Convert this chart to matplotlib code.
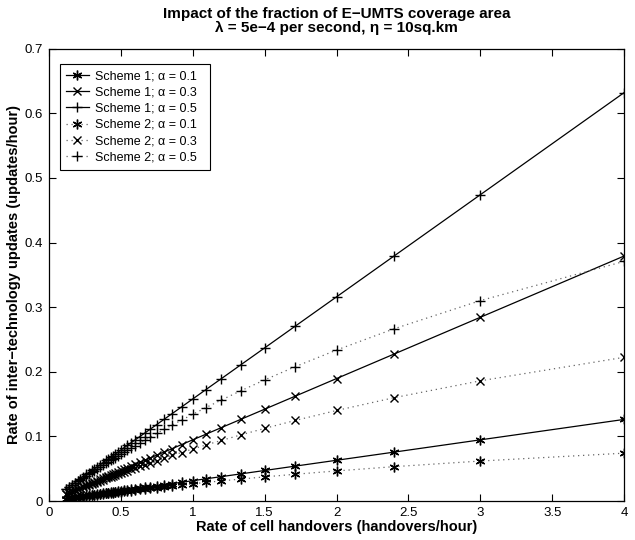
import matplotlib
matplotlib.use('Agg')
import matplotlib.pyplot as plt

# ==============================================================================
# data
# ==============================================================================

# rate of cell handovers (handovers/hour)
handovers = [4.0, 3.0, 2.4, 2.0, 1.7143, 1.5, 1.3333, 1.2, 1.0909, 1.0,
             0.9231, 0.8571, 0.8, 0.75, 0.7059, 0.6667, 0.6316, 0.6, 0.5714, 0.5455,
             0.5217, 0.5, 0.48, 0.4615, 0.4444, 0.4286, 0.4138, 0.4, 0.375, 0.3529,
             0.3333, 0.3158, 0.3, 0.2791, 0.2609, 0.24, 0.2182, 0.2, 0.1818, 0.16,
             0.1412, 0.12]

# scheme 1
s1_a01 = [0.1264, 0.0948, 0.0758, 0.0632, 0.0542, 0.0474, 0.0421, 0.0379, 0.0345, 0.0316,
          0.0292, 0.0271, 0.0253, 0.0237, 0.0223, 0.0211, 0.0200, 0.0190, 0.0181, 0.0172,
          0.0165, 0.0158, 0.0152, 0.0146, 0.0140, 0.0135, 0.0131, 0.0126, 0.0119, 0.0112,
          0.0105, 0.0100, 0.0095, 0.0088, 0.0082, 0.0076, 0.0069, 0.0063, 0.0057, 0.0051,
          0.0045, 0.0038]
s1_a03 = [0.3792, 0.2844, 0.2275, 0.1896, 0.1625, 0.1422, 0.1264, 0.1138, 0.1034, 0.0948,
          0.0875, 0.0812, 0.0758, 0.0711, 0.0669, 0.0632, 0.0599, 0.0569, 0.0542, 0.0517,
          0.0494, 0.0474, 0.0455, 0.0437, 0.0421, 0.0406, 0.0392, 0.0379, 0.0356, 0.0335,
          0.0316, 0.0299, 0.0284, 0.0265, 0.0247, 0.0227, 0.0207, 0.0190, 0.0172, 0.0152,
          0.0134, 0.0114]
s1_a05 = [0.632, 0.474, 0.3792, 0.316, 0.2709, 0.237, 0.2107, 0.1896, 0.1724, 0.158,
          0.1458, 0.1354, 0.1264, 0.1185, 0.1115, 0.1053, 0.0998, 0.0948, 0.0903, 0.0862,
          0.0824, 0.079, 0.0758, 0.0729, 0.0702, 0.0677, 0.0654, 0.0632, 0.0593, 0.0558,
          0.0527, 0.0499, 0.0474, 0.0441, 0.0412, 0.0379, 0.0345, 0.0316, 0.0287, 0.0253,
          0.0223, 0.019]

# scheme 2
s2_a01 = [0.0742, 0.0620, 0.0533, 0.0467, 0.0416, 0.0375, 0.0341, 0.0313, 0.0289, 0.0269,
          0.0251, 0.0235, 0.0222, 0.0209, 0.0198, 0.0188, 0.0180, 0.0171, 0.0164, 0.0157,
          0.0151, 0.0145, 0.0140, 0.0135, 0.0130, 0.0126, 0.0122, 0.0118, 0.0111, 0.0105,
          0.0100, 0.0095, 0.0090, 0.0084, 0.0079, 0.0073, 0.0066, 0.0061, 0.0056, 0.0049,
          0.0044, 0.0037]
s2_a03 = [0.2225, 0.1861, 0.1600, 0.1402, 0.1249, 0.1125, 0.1024, 0.0939, 0.0868, 0.0806,
          0.0752, 0.0706, 0.0665, 0.0628, 0.0595, 0.0565, 0.0539, 0.0514, 0.0492, 0.0472,
          0.0453, 0.0436, 0.0419, 0.0404, 0.0391, 0.0378, 0.0366, 0.0354, 0.0334, 0.0315,
          0.0299, 0.0284, 0.0270, 0.0252, 0.0236, 0.0218, 0.0199, 0.0183, 0.0167, 0.0148,
          0.0131, 0.0112]
s2_a05 = [0.3709, 0.3102, 0.2666, 0.2337, 0.2081, 0.1875, 0.1706, 0.1565, 0.1446, 0.1343,
          0.1254, 0.1177, 0.1108, 0.1047, 0.0992, 0.0942, 0.0898, 0.0857, 0.0820, 0.0786,
          0.0755, 0.0726, 0.0699, 0.0674, 0.0651, 0.0630, 0.0610, 0.0590, 0.0556, 0.0525,
          0.0498, 0.0473, 0.0450, 0.0420, 0.0394, 0.0364, 0.0332, 0.0305, 0.0278, 0.0246,
          0.0218, 0.0186]

labels = ['Scheme 1; \u03b1 = 0.1', 'Scheme 1; \u03b1 = 0.3', 'Scheme 1; \u03b1 = 0.5',
          'Scheme 2; \u03b1 = 0.1', 'Scheme 2; \u03b1 = 0.3', 'Scheme 2; \u03b1 = 0.5']

x_ticks = [0, 0.5, 1, 1.5, 2, 2.5, 3, 3.5, 4]
y_ticks = [0, 0.1, 0.2, 0.3, 0.4, 0.5, 0.6, 0.7]

# ==============================================================================
# plotting
# ==============================================================================
plt.rcParams['font.family'] = ['Liberation Sans', 'DejaVu Sans']

fig = plt.figure(figsize=(6.35, 5.4), dpi=100)
ax = fig.add_axes([0.077, 0.072, 0.906, 0.838])

asterisk = (6, 2, 0)
dots = (0, (1, 3))

ax.plot(handovers, s1_a01, color='k', lw=0.9, marker=asterisk, ms=7, mew=1.0, label=labels[0])
ax.plot(handovers, s1_a03, color='k', lw=0.9, marker='x', ms=5.5, mew=1.0, label=labels[1])
ax.plot(handovers, s1_a05, color='k', lw=0.9, marker='+', ms=7.5, mew=1.0, label=labels[2])
ax.plot(handovers, s2_a01, color='0.4', ls=dots, lw=0.9, marker=asterisk, ms=7, mew=1.0,
        mec='k', label=labels[3])
ax.plot(handovers, s2_a03, color='0.4', ls=dots, lw=0.9, marker='x', ms=5.5, mew=1.0,
        mec='k', label=labels[4])
ax.plot(handovers, s2_a05, color='0.4', ls=dots, lw=0.9, marker='+', ms=7.5, mew=1.0,
        mec='k', label=labels[5])

ax.set_xlim(0, 4)
ax.set_ylim(0, 0.7)
ax.set_xticks(x_ticks)
ax.set_xticklabels(['0', '0.5', '1', '1.5', '2', '2.5', '3', '3.5', '4'])
ax.set_yticks(y_ticks)
ax.set_yticklabels(['0', '0.1', '0.2', '0.3', '0.4', '0.5', '0.6', '0.7'])
ax.tick_params(direction='in', top=True, right=True, length=5, width=0.8, labelsize=9.5, pad=4)
for s in ax.spines.values():
    s.set_linewidth(0.9)

ax.set_xlabel('Rate of cell handovers (handovers/hour)', fontsize=10.5, fontweight='bold', labelpad=1)
ax.set_ylabel('Rate of inter\u2212technology updates (updates/hour)', fontsize=10.5,
              fontweight='bold', labelpad=3)
ax.set_title('Impact of the fraction of E\u2212UMTS coverage area\n'
             '\u03bb = 5e\u22124 per second, \u03b7 = 10sq.km',
             fontsize=11, fontweight='bold', pad=12, linespacing=1.0)

handles, _ = ax.get_legend_handles_labels()
leg = ax.legend(handles, [lab + '  ' for lab in labels], loc='upper left',
                bbox_to_anchor=(0.019, 0.966), fontsize=9, frameon=True,
                fancybox=False, edgecolor='k', framealpha=1, borderpad=0.5,
                labelspacing=0.34, handlelength=1.8, handletextpad=0.5, borderaxespad=0)
leg.get_frame().set_linewidth(0.8)

fig.savefig('out.png', dpi=100)
